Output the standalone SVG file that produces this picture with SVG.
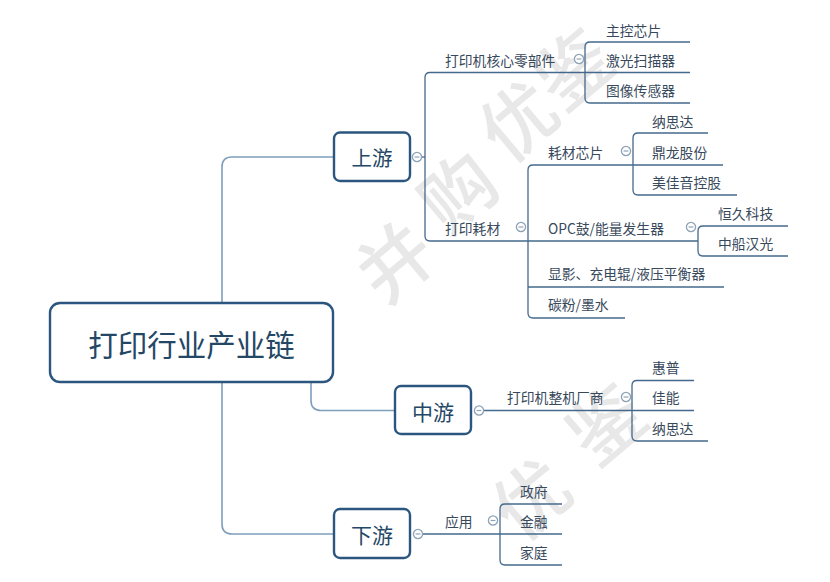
<svg xmlns="http://www.w3.org/2000/svg" width="830" height="582" viewBox="0 0 830 582">
<defs>
<style>
.wm{font-family:"Noto Sans CJK SC","Noto Sans CJK JP",sans-serif;font-size:74px;font-weight:500;fill:#e8e8e8;text-anchor:middle;dominant-baseline:central}
.node{fill:#fff;stroke:#2b5680;stroke-width:2.4}
.ntxt{font-family:"Noto Sans CJK SC","Noto Sans CJK JP",sans-serif;fill:#244766;text-anchor:middle;dominant-baseline:central}
.lbl{font-family:"Noto Sans CJK SC","Noto Sans CJK JP",sans-serif;font-size:13.8px;fill:#38495c;dominant-baseline:central}
.root-c{fill:none;stroke:#7f9fbb;stroke-width:1.6}
.ln{fill:none;stroke:#45698d;stroke-width:1.3}
.col circle{fill:#fff;stroke:#8ea3b6;stroke-width:1.3}
.col path{stroke:#8ea3b6;stroke-width:1.2}
</style>
<g id="cbtn" class="col"><circle cx="0" cy="0" r="4.6"/><path d="M-2.4,0H2.4"/></g>
</defs>
<rect width="830" height="582" fill="#fff"/>
<g id="watermark">
<text class="wm" transform="translate(392,258) rotate(-40)">并</text>
<text class="wm" transform="translate(455,188) rotate(-40)">购</text>
<text class="wm" transform="translate(515,117) rotate(-40)">优</text>
<text class="wm" transform="translate(570,65) rotate(-40)" font-size="66">鉴</text>
<text class="wm" transform="translate(528,495) rotate(-40)">优</text>
<text class="wm" transform="translate(603,420) rotate(-40)">鉴</text>
</g>
<g id="connectors">
<path class="root-c" d="M222,303V167Q222,157 232,157H334"/>
<path class="root-c" d="M311,382V400.5Q311,410.5 321,410.5H395"/>
<path class="root-c" d="M222,382V524Q222,534 232,534H334"/>
<path class="ln" d="M421.5,157H425"/>
<path class="ln" d="M430,72.5Q425,72.5 425,77.5V236Q425,241 430,241"/>
<path class="ln" d="M430,72.5H690"/>
<path class="ln" d="M430,241H698"/>
<path class="ln" d="M690,42H590Q585,42 585,47V98Q585,103 590,103H690"/>
<path class="ln" d="M533,165Q528,165 528,170V313Q528,318 533,318H625"/>
<path class="ln" d="M533,165H723"/>
<path class="ln" d="M528,287H724"/>
<path class="ln" d="M708,133H638Q633,133 633,138V190Q633,195 638,195H737"/>
<path class="ln" d="M788,226H703Q698,226 698,231V251Q698,256 703,256H788"/>
<path class="ln" d="M483.5,410.5H694"/>
<path class="ln" d="M694,380.5H637Q632,380.5 632,385.5V436Q632,441 637,441H708"/>
<path class="ln" d="M422.5,534H562"/>
<path class="ln" d="M562,504H505Q500,504 500,509V560Q500,565 505,565H562"/>
<use href="#cbtn" x="417" y="157"/>
<use href="#cbtn" x="579" y="59"/>
<use href="#cbtn" x="521" y="227"/>
<use href="#cbtn" x="626" y="151"/>
<use href="#cbtn" x="691" y="227"/>
<use href="#cbtn" x="479" y="410.5"/>
<use href="#cbtn" x="626" y="397"/>
<use href="#cbtn" x="418" y="534"/>
<use href="#cbtn" x="493" y="520.5"/>
</g>
<g id="root"><rect class="node" x="50" y="303" width="283" height="79" rx="10"/><text class="ntxt" x="191.5" y="343" font-size="29.5">打印行业产业链</text></g>
<g id="shangyou"><rect class="node" x="334" y="132.5" width="76" height="48.5" rx="6"/><text class="ntxt" x="372" y="157" font-size="20.5">上游</text></g>
<g id="zhongyou"><rect class="node" x="395" y="386" width="76" height="48" rx="6"/><text class="ntxt" x="433" y="410.5" font-size="21">中游</text></g>
<g id="xiayou"><rect class="node" x="334" y="509" width="76" height="49" rx="6"/><text class="ntxt" x="372" y="534" font-size="21">下游</text></g>
<g id="n-core"><text class="lbl" x="445" y="60">打印机核心零部件</text></g>
<g id="n-zhukong"><text class="lbl" x="606" y="30">主控芯片</text></g>
<g id="n-jiguang"><text class="lbl" x="606" y="60">激光扫描器</text></g>
<g id="n-tuxiang"><text class="lbl" x="606" y="90">图像传感器</text></g>
<g id="n-haocai"><text class="lbl" x="445" y="228">打印耗材</text></g>
<g id="n-chip"><text class="lbl" x="548" y="152">耗材芯片</text></g>
<g id="n-nasida1"><text class="lbl" x="652" y="121">纳思达</text></g>
<g id="n-dinglong"><text class="lbl" x="652" y="152">鼎龙股份</text></g>
<g id="n-meijia"><text class="lbl" x="652" y="182">美佳音控股</text></g>
<g id="n-opc"><text class="lbl" x="548" y="228">OPC鼓/能量发生器</text></g>
<g id="n-hengjiu"><text class="lbl" x="718" y="213">恒久科技</text></g>
<g id="n-zhongchuan"><text class="lbl" x="718" y="243">中船汉光</text></g>
<g id="n-xianying"><text class="lbl" x="548" y="273">显影、充电辊/液压平衡器</text></g>
<g id="n-tanfen"><text class="lbl" x="548" y="304">碳粉/墨水</text></g>
<g id="n-zhengji"><text class="lbl" x="507" y="397">打印机整机厂商</text></g>
<g id="n-huipu"><text class="lbl" x="652" y="367">惠普</text></g>
<g id="n-jianeng"><text class="lbl" x="652" y="397">佳能</text></g>
<g id="n-nasida2"><text class="lbl" x="652" y="428">纳思达</text></g>
<g id="n-yingyong"><text class="lbl" x="445" y="521">应用</text></g>
<g id="n-zhengfu"><text class="lbl" x="520" y="491">政府</text></g>
<g id="n-jinrong"><text class="lbl" x="520" y="521">金融</text></g>
<g id="n-jiating"><text class="lbl" x="520" y="552">家庭</text></g>
</svg>
